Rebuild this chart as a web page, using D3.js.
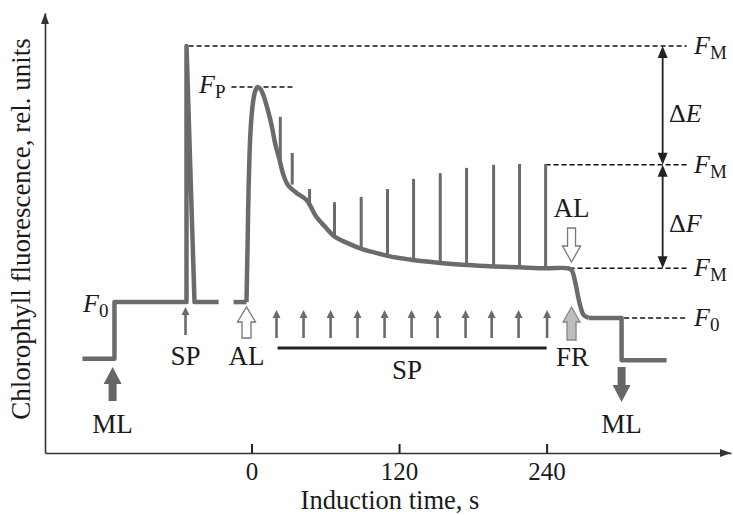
<!DOCTYPE html>
<html><head><meta charset="utf-8">
<script src="https://cdn.jsdelivr.net/npm/d3@7"></script>
<style>
body{margin:0;background:#fff}
svg{display:block}
text{font-family:"Liberation Serif","Times New Roman",serif;fill:#1a1a1a}
</style>
</head><body>
<svg id="c" width="733" height="515"></svg>
<script>
// ---------------- data ----------------
const tickValues = [0, 120, 240];
const xAxisTitle = "Induction time, s";
const yAxisTitle = "Chlorophyll fluorescence, rel. units";

// dark-adapted part: ML on, saturating pulse (F_M), back to F0
const preTime  = [-137.5, -111.5, -111.5, -52.9, -52.9, -46.4, -26.8];
const preValue = [21.4, 21.4, 34.3, 34.3, 92.5, 34.3, 34.3];

// short F0 piece before actinic light
const alStartTime  = [-14.6, -4.1];
const alStartValue = [34.3, 34.3];

// induction curve under actinic light (smooth)
const inductionTime  = [-4.1, -3.3, -2.4, -1.2, 0, 1.6, 3.3, 4.9, 7.3, 9.8, 13, 16.3, 19.5, 22.8, 25.5, 29.6, 36.6, 44.7, 52.7, 60.2, 67.5, 78.1, 89.5, 100.9, 110.6, 132.6, 153.8, 175.7, 196.9, 218, 240, 257, 260.3, 263.6, 266.8, 270.1, 274.2];
const inductionValue = [34.3, 46.1, 60.0, 71.0, 76.5, 80.5, 82.5, 83.2, 82.7, 81.2, 78.2, 74.5, 70.0, 66.6, 63.6, 60.9, 59.1, 57.5, 53.7, 51.3, 49.2, 47.7, 46.4, 45.5, 44.8, 43.8, 43.2, 42.7, 42.4, 42.2, 42.0, 42.0, 41.6, 38.4, 34.1, 31.4, 30.7];

// after far-red: F0', then ML off
const postTime  = [274.2, 301, 301, 337.6];
const postValue = [30.7, 30.7, 21.1, 21.1];

// saturating pulses during induction
const pulseTime = [23.4, 33.1, 47.2, 67.5, 89.2, 110.6, 131.8, 153.5, 174.9, 196.9, 218, 239.2];
const pulseTop  = [76.4, 68.2, 60.0, 57.0, 58.2, 60.0, 62.3, 63.6, 64.8, 65.5, 65.7, 65.7];
const pulseBase = [66.0, 61.0, 56.5, 49.3, 46.4, 44.8, 43.8, 43.2, 42.7, 42.4, 42.2, 42.0];

// small SP arrows below the trace
const spArrowTime = [20.3, 42.3, 64.3, 86.2, 108.2, 130.2, 151.3, 174.1, 195.3, 217.2, 240.4];

// characteristic levels
const levelFM = 92.5, levelFP = 83.2, levelFMp = 65.5, levelFS = 42.0, levelF0 = 34.3, levelF0p = 30.7;

// event times
const tML1 = -113, tSP1 = -53.7, tAL = -4.1, tFR = 260.3, tML2 = 301, spBarStart = 21.2, spBarEnd = 240;

// ---------------- drawing ----------------
const svg = d3.select("#c");
const x = d3.scaleLinear().domain([-168, 390]).range([45, 731]);
const y = d3.scaleLinear().domain([0, 100]).range([453, 13]);

const gray = "#6b6b6b";
const zip = (t, v) => t.map((d, i) => [d, v[i]]);

// axes
const xAxis = d3.axisBottom(x).tickValues(tickValues).tickSizeInner(-9).tickSizeOuter(0).tickPadding(9).tickFormat(d3.format("d"));
const gx = svg.append("g").attr("transform", `translate(0,${y(0)})`).call(xAxis);
gx.select(".domain").attr("stroke", "#333").attr("stroke-width", 1.6);
gx.selectAll(".tick line").attr("stroke", "#222").attr("stroke-width", 2);
gx.selectAll(".tick text").attr("font-size", 25).attr("fill", "#1a1a1a").attr("font-family", "Liberation Serif");

const yAxis = d3.axisLeft(y).tickValues([]).tickSizeOuter(0);
const gy = svg.append("g").attr("transform", `translate(${x(-168)},0)`).call(yAxis);
gy.select(".domain").attr("stroke", "#333").attr("stroke-width", 1.6);

// axis arrowheads
const x0 = x(-168), xr = x(390), y0 = y(0), yt = y(100);
svg.append("path").attr("d", `M${xr},${y0} L${xr-11},${y0-4} L${xr-11},${y0+4} Z`).attr("fill", "#333");
svg.append("path").attr("d", `M${x0},${yt} L${x0-4},${yt+11} L${x0+4},${yt+11} Z`).attr("fill", "#333");

svg.append("text").attr("x", 390).attr("y", 509).attr("text-anchor", "middle").attr("font-size", 26.5).text(xAxisTitle);
svg.append("text").attr("transform", `translate(30,229) rotate(-90)`).attr("text-anchor", "middle").attr("font-size", 27).text(yAxisTitle);

// dashed reference lines
const dash = (t0, t1, v) => svg.append("line").attr("x1", x(t0)).attr("x2", x(t1)).attr("y1", y(v)).attr("y2", y(v))
  .attr("stroke", "#111").attr("stroke-width", 1.5).attr("stroke-dasharray", "5,3");
dash(-51.2, 354, levelFM);
dash(-16.3, 35, levelFP);
dash(239.2, 354, levelFMp);
dash(239.2, 354, levelFS);
dash(277, 354, levelF0p);

// trace
const lin = d3.line().x(d => x(d[0])).y(d => y(d[1]));
const smooth = d3.line().x(d => x(d[0])).y(d => y(d[1])).curve(d3.curveCatmullRom.alpha(0.5));
const traceStyle = p => p.attr("fill", "none").attr("stroke", gray).attr("stroke-width", 4.5).attr("stroke-linejoin", "round");

// pulses
svg.append("g").selectAll("line").data(pulseTime).join("line")
  .attr("x1", d => x(d)).attr("x2", d => x(d))
  .attr("y1", (d, i) => y(pulseBase[i])).attr("y2", (d, i) => y(pulseTop[i]))
  .attr("stroke", gray).attr("stroke-width", 3);

svg.append("path").attr("d", lin(zip(preTime, preValue))).call(traceStyle);
svg.append("path").attr("d", lin(zip(alStartTime, alStartValue))).call(traceStyle);
svg.append("path").attr("d", smooth(zip(inductionTime, inductionValue))).call(traceStyle);
svg.append("path").attr("d", lin(zip(postTime, postValue))).call(traceStyle);

// thin arrows
function thinArrow(cx, yTail, yTip) {
  const g = svg.append("g");
  g.append("line").attr("x1", cx).attr("x2", cx).attr("y1", yTail).attr("y2", yTip + 5).attr("stroke", gray).attr("stroke-width", 2.6);
  g.append("path").attr("d", `M${cx},${yTip} L${cx-4},${yTip+8} L${cx+4},${yTip+8} Z`).attr("fill", gray);
}
spArrowTime.forEach(t => thinArrow(x(t), 338, 310));
thinArrow(x(tSP1), 335, 307);

// block arrows
function blockArrow(cx, yTail, yTip, sw, hw, hh, fill, stroke) {
  const dir = Math.sign(yTip - yTail);
  const yh = yTip - dir * hh;
  const pts = [[cx - sw/2, yTail], [cx - sw/2, yh], [cx - hw/2, yh], [cx, yTip], [cx + hw/2, yh], [cx + sw/2, yh], [cx + sw/2, yTail]];
  svg.append("path").attr("d", "M" + pts.map(p => p.join(",")).join("L") + "Z")
    .attr("fill", fill).attr("stroke", stroke || "none").attr("stroke-width", 1.3);
}
blockArrow(x(tML1), 401, 367, 8, 18, 17, "#666");
blockArrow(x(tML2), 367, 402, 8, 18, 17, "#666");
blockArrow(x(tAL), 338, 307, 9, 18, 15, "#fff", "#777");
blockArrow(x(tFR), 340, 307, 9, 17, 15, "#bdbdbd", "#888");
blockArrow(x(tFR), 228, 262, 8, 18, 16, "#fff", "#777");

// SP bar
svg.append("line").attr("x1", x(spBarStart)).attr("x2", x(spBarEnd)).attr("y1", 348).attr("y2", 348).attr("stroke", "#222").attr("stroke-width", 3);

// event labels
const label = (xx, yy, s) => svg.append("text").attr("x", xx).attr("y", yy).attr("text-anchor", "middle").attr("font-size", 27).text(s);
label(x(tSP1), 365, "SP");
label(x(tAL), 365, "AL");
label(407, 379, "SP");
label(x(tFR) + 1, 366, "FR");
label(x(tML1), 433, "ML");
label(x(tML2), 433, "ML");
label(x(tFR), 217, "AL");

// double arrows ΔE, ΔF
function dblArrow(cx, ya, yb) {
  svg.append("line").attr("x1", cx).attr("x2", cx).attr("y1", ya + 6).attr("y2", yb - 6).attr("stroke", "#222").attr("stroke-width", 1.8);
  svg.append("path").attr("d", `M${cx},${ya} L${cx-5},${ya+12} L${cx+5},${ya+12} Z`).attr("fill", "#222");
  svg.append("path").attr("d", `M${cx},${yb} L${cx-5},${yb-12} L${cx+5},${yb-12} Z`).attr("fill", "#222");
}
dblArrow(x(334.4), y(levelFM), y(levelFMp));
dblArrow(x(334.4), y(levelFMp), y(levelFS));

function symText(xx, yy, sym, sub, pre) {
  const t = svg.append("text").attr("x", xx).attr("y", yy).attr("font-size", 26);
  if (pre) t.append("tspan").text(pre);
  t.append("tspan").attr("font-style", "italic").text(sym);
  if (sub) t.append("tspan").attr("font-size", 19).attr("dy", 5).text(sub);
  return t;
}
symText(694, y(levelFM) + 8, "F", "M");
symText(694, y(levelFMp) + 8, "F", "M");
symText(694, y(levelFS) + 8, "F", "M");
symText(694, y(levelF0p) + 8, "F", "0");
symText(83, 312, "F", "0");
symText(199, 93, "F", "P");
symText(669, 122, "E", null, "Δ");
symText(669, 232, "F", null, "Δ");
</script>
</body></html>
